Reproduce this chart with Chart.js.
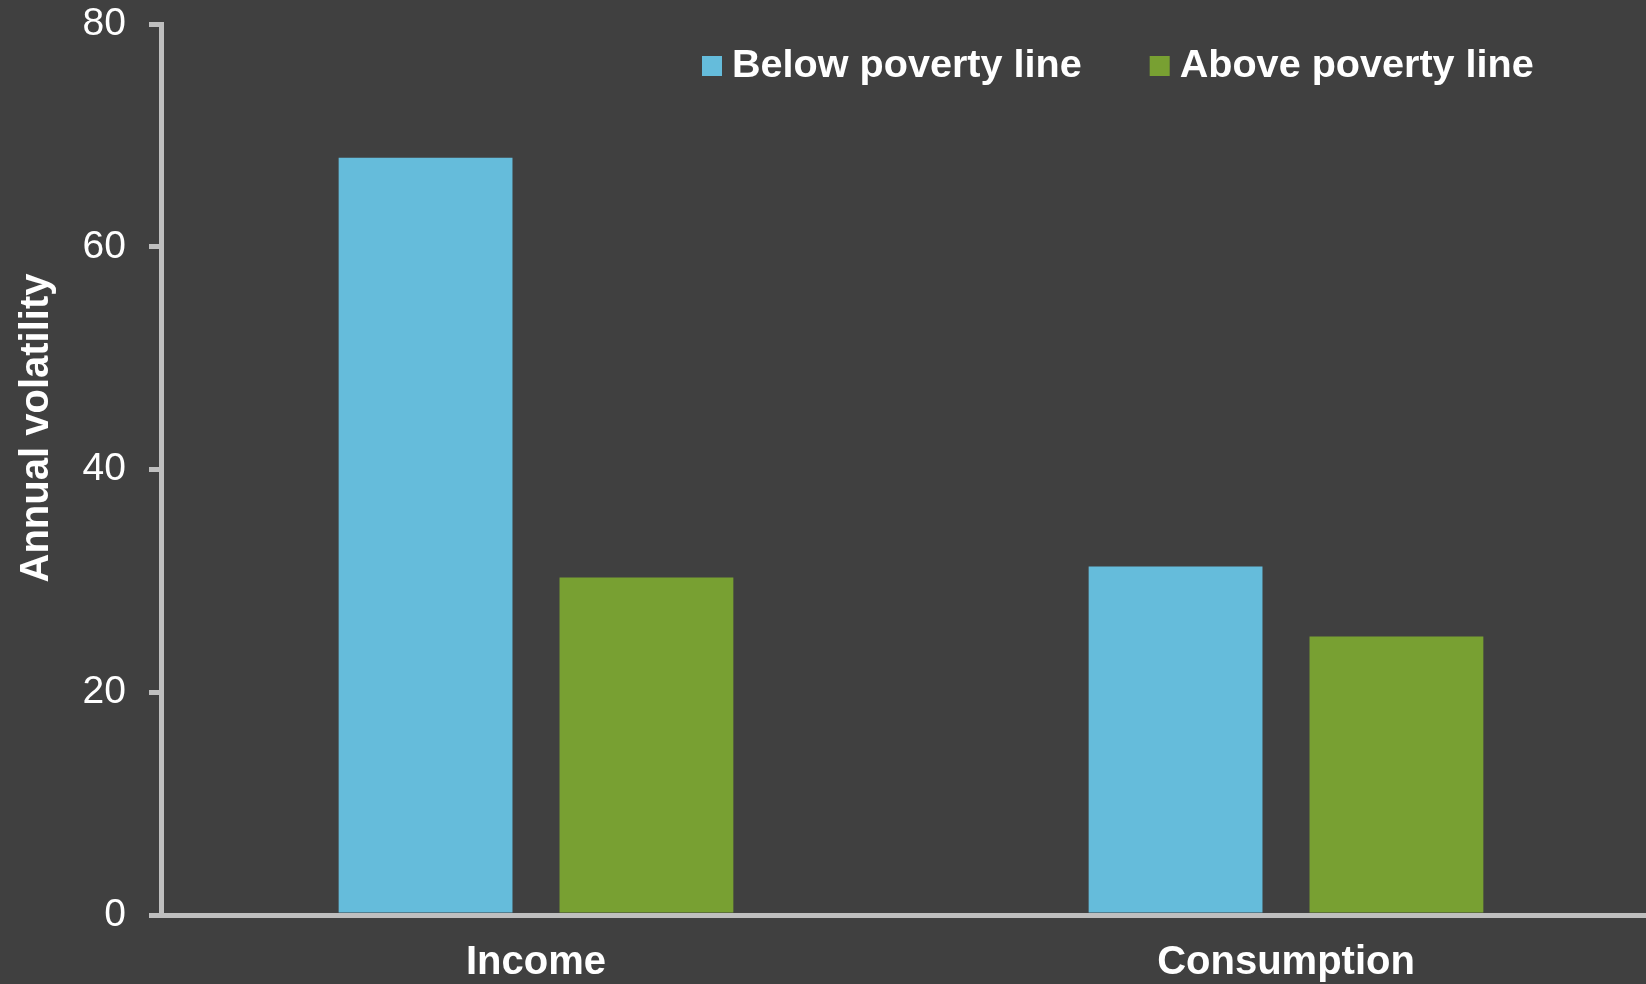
<!DOCTYPE html>
<html>
<head>
<meta charset="utf-8">
<script src="https://cdn.jsdelivr.net/npm/chart.js@4/dist/chart.umd.min.js"></script>
<style>
  html, body { margin: 0; padding: 0; background: #404040; overflow: hidden; }
  #wrap { position: relative; width: 1661px; height: 984px; }
</style>
</head>
<body>
<div id="wrap"><canvas id="volChart"></canvas></div>
<script>
const categories = ["Income", "Consumption"];
const belowPoverty = [68, 31.3];
const abovePoverty = [30.3, 25];
const yTicks = [0, 20, 40, 60, 80];
const yTitle = "Annual volatility";

const axisGrey = "#bfbfbf";
const fontFamily = "'Liberation Sans', Arial, sans-serif";

// legend in one row inside the plot, plus the rotated y title
const overlayText = {
    id: "overlayText",
    afterDraw(chart) {
        const c = chart.ctx;
        c.save();
        c.font = "bold 39.6px " + fontFamily;
        c.textBaseline = "middle";
        let x = 702;
        const y = 66;
        chart.data.datasets.forEach((ds) => {
            c.fillStyle = ds.backgroundColor;
            c.fillRect(x, y - 10, 20, 20);
            c.fillStyle = "#ffffff";
            c.textAlign = "left";
            c.fillText(ds.label, x + 30, y);
            x += 30 + c.measureText(ds.label).width + 68;
        });

        c.font = "bold 40px " + fontFamily;
        c.translate(37, 428);
        c.rotate(-Math.PI / 2);
        c.textAlign = "center";
        c.fillText(yTitle, 0, 0);
        c.restore();
    },
};

const ctx = document.getElementById("volChart").getContext("2d");
new Chart(ctx, {
    type: "bar",
    data: {
        labels: categories,
        datasets: [
            {
                label: "Below poverty line",
                data: belowPoverty,
                backgroundColor: "#65bcdb",
            },
            {
                label: "Above poverty line",
                data: abovePoverty,
                backgroundColor: "#78a032",
            },
        ],
    },
    options: {
        responsive: true,
        maintainAspectRatio: false,
        animation: false,
        devicePixelRatio: 1,
        categoryPercentage: 0.589,
        barPercentage: 0.787,
        layout: { padding: { top: 24, left: 0, right: 0, bottom: 0 } },
        plugins: {
            legend: { display: false },
            tooltip: { enabled: false },
        },
        scales: {
            x: {
                z: 1,
                afterFit: (scale) => {
                    scale.height = 69;
                },
                grid: { display: true, drawOnChartArea: false, drawTicks: false },
                border: { display: true, color: axisGrey, width: 5 },
                ticks: {
                    color: "#ffffff",
                    padding: 28,
                    font: { family: fontFamily, size: 40, weight: "bold", lineHeight: 1 },
                },
            },
            y: {
                min: 0,
                max: 80,
                afterBuildTicks: (scale) => {
                    scale.ticks = yTicks.map((v) => ({ value: v }));
                },
                afterFit: (scale) => {
                    scale.width = 161;
                    scale.paddingTop = 0;
                    scale.paddingBottom = 0;
                },
                grid: {
                    drawOnChartArea: false,
                    drawTicks: true,
                    tickLength: 12,
                    tickColor: axisGrey,
                    lineWidth: 5,
                },
                border: { display: true, color: axisGrey, width: 5 },
                ticks: {
                    color: "#ffffff",
                    padding: 23,
                    font: { family: fontFamily, size: 39 },
                },
            },
        },
    },
    plugins: [overlayText],
});
</script>
</body>
</html>
